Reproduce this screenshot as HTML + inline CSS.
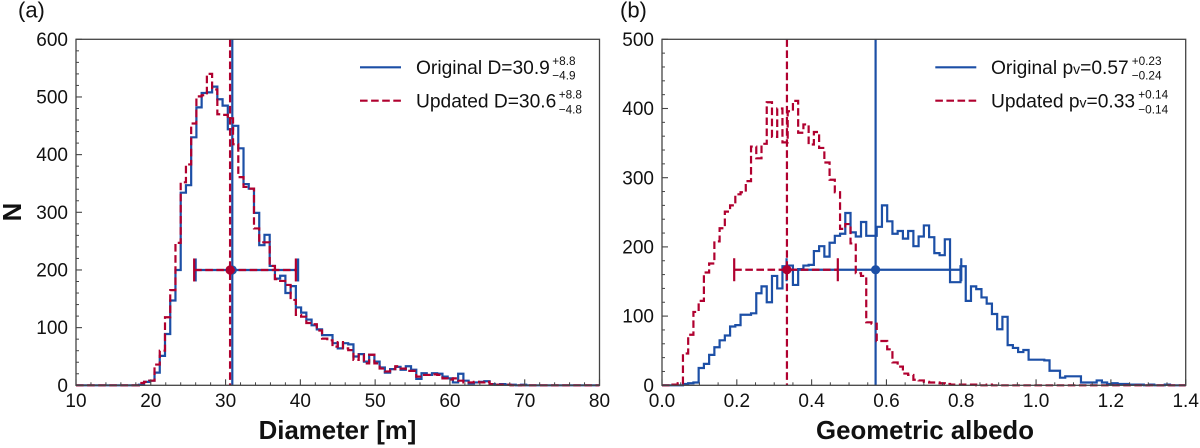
<!DOCTYPE html>
<html>
<head>
<meta charset="utf-8">
<title>Diameter and albedo histograms</title>
<style>
html,body{margin:0;padding:0;background:#fff;width:1200px;height:448px;overflow:hidden}
svg{display:block}
text{font-family:"Liberation Sans",sans-serif;fill:#111}
.tick{font-size:19px}
.title{font-size:25.8px;font-weight:bold}
.leg{font-size:19.2px}
.small{font-size:11.8px}
.v{font-size:14px}
</style>
</head>
<body>
<svg id="fig" width="1200" height="448" viewBox="0 0 1200 448" xmlns="http://www.w3.org/2000/svg">
  <rect width="1200" height="448" fill="#fff"/>
  <g id="panelA"></g>
  <g id="panelB"></g>

  <text x="18" y="17.5" font-size="22">(a)</text>
  <text x="620" y="17.5" font-size="22">(b)</text>
  <text class="title" transform="translate(21 212) rotate(-90)" text-anchor="middle">N</text>
  <text class="title" x="337.5" y="439" text-anchor="middle">Diameter [m]</text>
  <text class="title" x="925" y="439" text-anchor="middle">Geometric albedo</text>

  <g>
    <line x1="360" x2="401" y1="67.3" y2="67.3" stroke="#1c4fa6" stroke-width="2.2"/>
    <text class="leg" x="416" y="74">Original D=30.9</text>
    <text class="small" x="552.3" y="65">+8.8</text>
    <text class="small" x="552.3" y="79.3">−4.9</text>
    <line x1="360" x2="401" y1="100.7" y2="100.7" stroke="#b0002f" stroke-width="2.2" stroke-dasharray="7.6 3.5"/>
    <text class="leg" x="416" y="107.3">Updated D=30.6</text>
    <text class="small" x="558.7" y="98.3">+8.8</text>
    <text class="small" x="558.7" y="113.3">−4.8</text>
  </g>
  <g>
    <line x1="935.3" x2="976.3" y1="67.3" y2="67.3" stroke="#1c4fa6" stroke-width="2.2"/>
    <text class="leg" x="991" y="74">Original p<tspan class="v">v</tspan>=0.57</text>
    <text class="small" x="1131.7" y="65">+0.23</text>
    <text class="small" x="1131.7" y="79.3">−0.24</text>
    <line x1="935.3" x2="976.3" y1="100.7" y2="100.7" stroke="#b0002f" stroke-width="2.2" stroke-dasharray="7.6 3.5"/>
    <text class="leg" x="991" y="107.3">Updated p<tspan class="v">v</tspan>=0.33</text>
    <text class="small" x="1138.3" y="98.3">+0.14</text>
    <text class="small" x="1138.3" y="113.3">−0.14</text>
  </g>
</svg>
<script>
// ---- Panel (a) data: counts per 0.7 m bin, starting at 10 m
const diameterOriginal = [0,0,0,0,0,0,0,0,0,0,0,0,1,6,8,22,51,89,147,200,334,347,430,482,507,508,518,496,485,444,450,411,349,341,299,243,261,207,185,190,160,172,135,126,114,104,97,87,87,73,64,73,71,50,54,41,53,41,31,22,28,32,27,33,27,11,21,18,21,20,15,12,5,20,8,3,5,6,7,2,1,2,1,1,0,1,0,0,0,0,0,0,0,0,0,0,0,0,0,0];
const diameterUpdated = [0,0,0,0,0,0,0,0,0,0,0,0,4,6,8,36,60,118,165,247,352,383,454,501,503,540,513,470,469,463,418,361,344,341,272,248,248,207,184,181,174,148,122,119,108,106,95,81,78,67,75,64,61,44,53,38,53,38,29,24,28,33,29,25,25,15,18,18,19,18,12,10,12,8,5,5,6,5,6,2,1,1,1,0,0,0,0,0,0,0,0,0,0,0,0,0,0,0,0,0];
// ---- Panel (b) data: counts per 0.014 albedo bin, starting at 0
const albedoOriginal = [0,0,0,0,2,3,4,25,31,44,55,65,72,85,87,102,102,104,133,143,120,158,140,172,173,145,168,173,174,194,201,186,206,216,219,249,221,215,236,216,216,229,260,237,219,223,212,223,201,215,231,214,191,188,211,149,149,172,122,143,139,127,118,103,81,99,58,54,48,51,37,37,37,36,21,21,11,13,13,13,4,4,4,7,4,2,3,2,2,1,1,1,0,1,0,0,1,0,0,0];
const albedoUpdated = [0,0,1,3,46,73,106,122,163,176,208,227,251,260,276,279,295,345,328,349,409,359,400,351,396,411,365,377,348,366,343,322,297,279,226,233,205,162,158,91,89,64,64,52,33,27,17,15,8,7,5,4,4,3,2,1,1,1,1,1,0,0,1,0,0,0,0,0,0,0,0,0,0,0,0,0,0,0,0,0,0,0,0,0,0,0,0,0,0,0,0,0,0,0,0,0,0,0,0,0];
// ---- Summary statistics
const diameterStats = {orig:[30.9,26.0,39.7,200], upd:[30.6,25.8,39.4,200]};
const albedoStats = {orig:[0.571,0.333,0.80,167], upd:[0.334,0.193,0.47,167]};
// ---- Tick labels
const diameterXTicks = [10,20,30,40,50,60,70,80];
const diameterYTicks = [0,100,200,300,400,500,600];
const albedoXTicks = ["0.0","0.2","0.4","0.6","0.8","1.0","1.2","1.4"];
const albedoYTicks = [0,100,200,300,400,500];

const BLUE = '#1c4fa6', RED = '#b0002f', AXIS = '#444', NS = 'http://www.w3.org/2000/svg';
const LW = 2.2;

function make(parent, tag, attrs) {
  const n = document.createElementNS(NS, tag);
  for (const k in attrs) n.setAttribute(k, attrs[k]);
  parent.appendChild(n);
  return n;
}

function drawPanel(cfg) {
  const g = document.getElementById(cfg.id);
  const L = cfg.box[0], R = cfg.box[1], T = 39.3, B = 385.3;
  const x = v => L + (v - cfg.xMin) / (cfg.xMax - cfg.xMin) * (R - L);
  const y = v => B - v / cfg.yMax * (B - T);

  // histograms
  function hist(values, color, dash, name) {
    const bw = (cfg.xMax - cfg.xMin) / values.length;
    let d = 'M' + x(cfg.xMin) + ' ' + y(0);
    values.forEach((v, i) => {
      d += ' L' + x(cfg.xMin + i * bw).toFixed(2) + ' ' + y(v).toFixed(2);
      d += ' L' + x(cfg.xMin + (i + 1) * bw).toFixed(2) + ' ' + y(v).toFixed(2);
    });
    const p = make(g, 'path', {d: d, fill: 'none', stroke: color, 'stroke-width': LW, 'stroke-dasharray': dash, 'stroke-linejoin': 'miter'});
    
    
  }
  // median line + error bar
  function stat(s, color, dash, prefix) {
    const vl = make(g, 'line', {x1: x(s[0]), x2: x(s[0]), y1: T, y2: B, stroke: color, 'stroke-width': LW, 'stroke-dasharray': dash});
    
    
    const hl = make(g, 'line', {x1: x(s[1]), x2: x(s[2]), y1: y(s[3]), y2: y(s[3]), stroke: color, 'stroke-width': LW, 'stroke-dasharray': dash});
    
    
    [s[1], s[2]].forEach(c => {
      const cap = make(g, 'line', {x1: x(c), x2: x(c), y1: y(s[3]) - 11.5, y2: y(s[3]) + 11.5, stroke: color, 'stroke-width': LW});
      
      
    });
    const dot = make(g, 'circle', {cx: x(s[0]), cy: y(s[3]), r: 4.6, fill: color});
    
    
  }
  hist(cfg.orig, BLUE, 'none', 'original-histogram');
  stat(cfg.stats.orig, BLUE, 'none', 'original');
  hist(cfg.upd, RED, '7.6 3.5', 'updated-histogram');
  stat(cfg.stats.upd, RED, '7.6 3.5', 'updated');

  // axes frame
  const frame = make(g, 'rect', {x: L, y: T, width: R - L, height: B - T, fill: 'none', stroke: AXIS, 'stroke-width': 1.3});
  
  

  // x ticks
  cfg.xLabels.forEach((lab, i) => {
    const v = Number(lab);
    const t = make(g, 'line', {x1: x(v), x2: x(v), y1: B, y2: B - 6, stroke: AXIS, 'stroke-width': 1.1});
    
    
    const txt = make(g, 'text', {x: x(v), y: 407, 'text-anchor': 'middle', class: 'tick'});
    txt.textContent = lab;
    
    
    if (i < cfg.xLabels.length - 1) {
      const next = Number(cfg.xLabels[i + 1]);
      for (let m = 1; m < cfg.xMinorPer; m++) {
        const mv = v + (next - v) * m / cfg.xMinorPer;
        const mt = make(g, 'line', {x1: x(mv), x2: x(mv), y1: B, y2: B - 3, stroke: AXIS, 'stroke-width': 1});
        
        
      }
    }
  });
  // y ticks
  cfg.yLabels.forEach((v, i) => {
    const t = make(g, 'line', {x1: L, x2: L + 6, y1: y(v), y2: y(v), stroke: AXIS, 'stroke-width': 1.1});
    
    
    const txt = make(g, 'text', {x: L - 8, y: y(v) + 6.6, 'text-anchor': 'end', class: 'tick'});
    txt.textContent = v;
    
    
    if (i < cfg.yLabels.length - 1) {
      for (let m = 1; m < 5; m++) {
        const mv = v + (cfg.yLabels[i + 1] - v) * m / 5;
        const mt = make(g, 'line', {x1: L, x2: L + 3, y1: y(mv), y2: y(mv), stroke: AXIS, 'stroke-width': 1});
        
        
      }
    }
  });
}

drawPanel({id: 'panelA', box: [76, 599.5], xMin: 10, xMax: 80, yMax: 600,
  orig: diameterOriginal, upd: diameterUpdated, stats: diameterStats,
  xLabels: diameterXTicks.map(String), yLabels: diameterYTicks, xMinorPer: 5});
drawPanel({id: 'panelB', box: [662, 1185.7], xMin: 0, xMax: 1.4, yMax: 500,
  orig: albedoOriginal, upd: albedoUpdated, stats: albedoStats,
  xLabels: albedoXTicks, yLabels: albedoYTicks, xMinorPer: 4});
</script>
</body>
</html>
